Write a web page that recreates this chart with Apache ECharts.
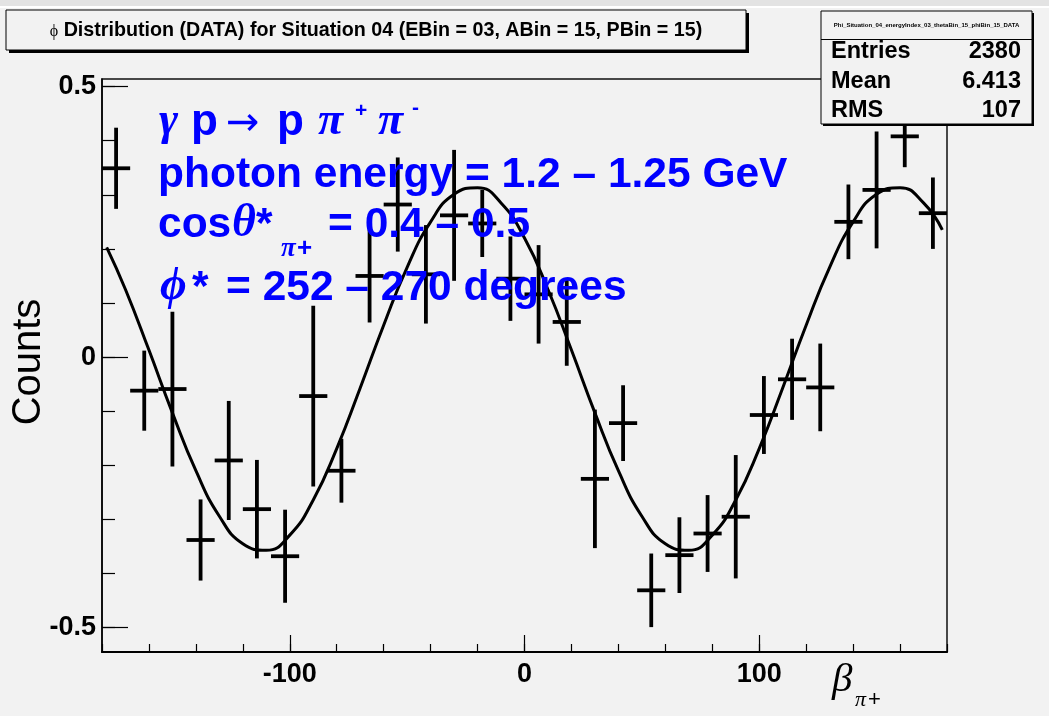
<!DOCTYPE html>
<html>
<head>
<meta charset="utf-8">
<script src="https://cdn.jsdelivr.net/npm/echarts@6/dist/echarts.min.js"></script>
<style>
  html, body { margin: 0; padding: 0; background: #f2f2f2; }
  #chart { width: 1049px; height: 716px; }
</style>
</head>
<body>
<div id="chart"></div>
<script>
// phi distribution, 30 bins of 12 degrees
const binCenters = [-174, -162, -150, -138, -126, -114, -102, -90, -78, -66,
                    -54, -42, -30, -18, -6, 6, 18, 30, 42, 54,
                    66, 78, 90, 102, 114, 126, 138, 150, 162, 174];
const counts = [0.349, -0.062, -0.059, -0.338, -0.191, -0.281, -0.368, -0.072, -0.210, 0.150,
                0.282, 0.153, 0.262, 0.247, 0.145, 0.116, 0.065, -0.225, -0.122, -0.431,
                -0.366, -0.326, -0.295, -0.107, -0.041, -0.056, 0.250, 0.309, 0.408, 0.266];
const countErrors = [0.075, 0.074, 0.143, 0.075, 0.110, 0.091, 0.086, 0.167, 0.059, 0.086,
                     0.087, 0.091, 0.121, 0.062, 0.078, 0.091, 0.081, 0.128, 0.070, 0.068,
                     0.070, 0.071, 0.114, 0.072, 0.075, 0.081, 0.069, 0.108, 0.057, 0.066];

// fitted curve
const fitAngles = [-178, -170, -160, -150, -140, -130, -120, -110, -100, -90,
                   -80, -70, -60, -50, -40, -30, -20, -10, 0, 10,
                   20, 30, 40, 50, 60, 70, 80, 90, 100, 110,
                   120, 130, 140, 150, 160, 170, 178];
const fitValues = [0.203, 0.125, 0.013, -0.103, -0.210, -0.294, -0.345, -0.357, -0.329, -0.264,
                   -0.169, -0.057, 0.059, 0.166, 0.250, 0.301, 0.313, 0.285, 0.220, 0.125,
                   0.013, -0.103, -0.210, -0.294, -0.345, -0.357, -0.329, -0.264, -0.169, -0.057,
                   0.059, 0.166, 0.250, 0.301, 0.313, 0.285, 0.235];

const xLabelTicks = [-100, 0, 100];
const yLabelTicks = [-0.5, 0, 0.5];
const yMinorTicks = [-0.5, -0.4, -0.3, -0.2, -0.1, 0, 0.1, 0.2, 0.3, 0.4, 0.5];

const statsTitle = 'Phi_Situation_04_energyIndex_03_thetaBin_15_phiBin_15_DATA';
const statsNames = ['Entries', 'Mean', 'RMS'];
const statsValues = ['2380', '6.413', '107'];

const plotTitle = ' Distribution (DATA) for Situation 04 (EBin = 03, ABin = 15, PBin = 15)';

const BIN_WIDTH = 12;
const BLUE = '#0000ff';
const SANS = "'Liberation Sans', Arial, sans-serif";
const SERIF = "'Liberation Serif', 'Times New Roman', serif";

const measureCtx = document.createElement('canvas').getContext('2d');
function textWidth(text, font) {
  measureCtx.font = font;
  return measureCtx.measureText(text).width;
}
function fontSize(font) {
  return parseFloat(font.match(/(\d+(?:\.\d+)?)px/)[1]);
}
// text element placed by its alphabetic baseline
function textEl(text, font, x, baseline, color, align, z) {
  return {
    type: 'text', z: z || 100, x: x, y: baseline - 0.345 * fontSize(font),
    style: { text: text, font: font, fill: color, align: align || 'left', textAlign: align || 'left',
             verticalAlign: 'middle', textVerticalAlign: 'middle' }
  };
}
// pieces with their own left edge and baseline offset
function placed(pieces, baseline, color) {
  return pieces.map(p => textEl(p.text, p.font, p.x, baseline + (p.dy || 0), color));
}

const S = 42.5;
const bold = `bold ${S}px ${SANS}`;
const greek = `italic bold 46px ${SERIF}`;
const supFont = `bold 21px ${SANS}`;
const subGreek = `italic bold 27px ${SERIF}`;
const subSans = `bold 26px ${SANS}`;

const annotation = [].concat(
  placed([
    { text: 'γ', font: greek, x: 159 },
    { text: 'p', font: `bold 44px ${SANS}`, x: 191 },
    { text: '→', font: `40px 'DejaVu Sans', sans-serif`, x: 226 },
    { text: 'p', font: `bold 44px ${SANS}`, x: 277 },
    { text: 'π', font: greek, x: 318 },
    { text: '+', font: supFont, x: 355, dy: -20 },
    { text: 'π', font: greek, x: 378 },
    { text: '-', font: supFont, x: 412, dy: -23 }
  ], 138, BLUE),
  placed([{ text: 'photon energy = 1.2 – 1.25 GeV', font: bold, x: 158 }], 190, BLUE),
  placed([
    { text: 'cos', font: bold, x: 158 },
    { text: 'θ', font: greek, x: 232 },
    { text: '*', font: bold, x: 256 },
    { text: 'π', font: subGreek, x: 281, dy: 18 },
    { text: '+', font: subSans, x: 297, dy: 18 },
    { text: '= 0.4 – 0.5', font: bold, x: 328 }
  ], 240, BLUE),
  placed([
    { text: 'ϕ', font: greek, x: 160 },
    { text: '*', font: bold, x: 192 },
    { text: '= 252 – 270 degrees', font: bold, x: 226 }
  ], 303, BLUE)
);

// title pave
const titleFont = `bold 19.7px ${SANS}`;
const titlePhiFont = `16px ${SERIF}`;
const titleW = textWidth('ϕ', titlePhiFont) + textWidth(plotTitle, titleFont);
const titleX = 376 - titleW / 2;
const titleBox = [
  { type: 'rect', z: 90, shape: { x: 9, y: 13, width: 740, height: 40 }, style: { fill: '#000' } },
  { type: 'rect', z: 91, shape: { x: 6, y: 10, width: 740, height: 40 }, style: { fill: '#f2f2f2', stroke: '#000', lineWidth: 1 } },
  textEl('ϕ', titlePhiFont, titleX, 37, '#000'),
  textEl(plotTitle, titleFont, titleX + textWidth('ϕ', titlePhiFont), 37, '#000')
];

// statistics pave
const statsBox = [
  { type: 'rect', z: 90, shape: { x: 823, y: 13, width: 211, height: 113 }, style: { fill: '#000' } },
  { type: 'rect', z: 91, shape: { x: 821, y: 11, width: 211, height: 113 }, style: { fill: '#f2f2f2', stroke: '#000', lineWidth: 1 } },
  { type: 'line', z: 92, shape: { x1: 821, y1: 39.5, x2: 1032, y2: 39.5 }, style: { stroke: '#000', lineWidth: 1 } },
  textEl(statsTitle, `bold 6px ${SANS}`, 926.5, 27, '#000', 'center')
];
statsNames.forEach((name, i) => {
  const base = 60 + i * 29.2;
  statsBox.push(textEl(name, `bold 23.5px ${SANS}`, 831, base, '#000', 'left'));
  statsBox.push(textEl(statsValues[i], `bold 23.5px ${SANS}`, 1021, base, '#000', 'right'));
});

// axis titles
const axisTitles = [
  {
    type: 'text', z: 100, x: 29, y: 362, rotation: Math.PI / 2,
    style: { text: 'Counts', font: `40px ${SANS}`, fill: '#000', align: 'center', textAlign: 'center',
             verticalAlign: 'middle', textVerticalAlign: 'middle' }
  },
  textEl('β', `italic 41px ${SERIF}`, 832, 694, '#000'),
  textEl('π', `italic 22px ${SERIF}`, 855, 708, '#000'),
  textEl('+', `22px ${SANS}`, 868, 708, '#000')
];

// window strip at the top edge
const topStrip = [
  { type: 'rect', z: 1, shape: { x: 0, y: 0, width: 1049, height: 6 }, style: { fill: '#e3e3e3' } },
  { type: 'rect', z: 1, shape: { x: 0, y: 6, width: 1049, height: 2 }, style: { fill: '#ffffff' } }
];

const chart = echarts.init(document.getElementById('chart'), null, { renderer: 'canvas' });

const axisLabelStyle = { color: '#000', fontFamily: SANS, fontWeight: 'bold', fontSize: 27 };

chart.setOption({
  backgroundColor: '#f2f2f2',
  animation: false,
  grid: { left: 102, right: 102, top: 79, bottom: 64, show: true, borderColor: '#111', borderWidth: 1.5 },
  xAxis: [
    {
      type: 'value', min: -180, max: 180, interval: 20,
      axisLine: { show: true, onZero: false, lineStyle: { color: '#000', width: 2 } },
      axisTick: { show: true, inside: true, length: 8, lineStyle: { color: '#000', width: 1.2 } },
      axisLabel: {
        ...axisLabelStyle, margin: 9,
        formatter: v => (xLabelTicks.indexOf(v) >= 0 ? String(v) : '')
      },
      splitLine: { show: false }
    },
    {
      type: 'value', min: -180, max: 180, position: 'bottom',
      axisLine: { show: false, onZero: false },
      axisTick: { show: true, inside: true, length: 17, customValues: xLabelTicks, lineStyle: { color: '#000', width: 1.2 } },
      axisLabel: { show: false },
      splitLine: { show: false }
    }
  ],
  yAxis: [
    {
      type: 'value', min: -0.545, max: 0.514,
      axisLine: { show: true, onZero: false, lineStyle: { color: '#000', width: 1.5 } },
      axisTick: { show: true, inside: true, length: 13, customValues: yMinorTicks, lineStyle: { color: '#000', width: 1.2 } },
      axisLabel: { ...axisLabelStyle, margin: 6, customValues: yLabelTicks, formatter: v => String(v) },
      splitLine: { show: false }
    },
    {
      type: 'value', min: -0.545, max: 0.514, position: 'left',
      axisLine: { show: false, onZero: false },
      axisTick: { show: true, inside: true, length: 26, customValues: yLabelTicks, lineStyle: { color: '#000', width: 1.2 } },
      axisLabel: { show: false },
      splitLine: { show: false }
    }
  ],
  series: [
    {
      type: 'custom',
      name: 'data',
      xAxisIndex: 0, yAxisIndex: 0,
      z: 3,
      data: binCenters.map((c, i) => [c, counts[i], countErrors[i]]),
      renderItem: function (params, api) {
        const x = api.value(0), y = api.value(1), e = api.value(2);
        const top = api.coord([x, y + e]);
        const bot = api.coord([x, y - e]);
        const left = api.coord([x - BIN_WIDTH / 2, y]);
        const right = api.coord([x + BIN_WIDTH / 2, y]);
        const st = { stroke: '#000', lineWidth: 3.8 };
        return {
          type: 'group',
          children: [
            { type: 'line', shape: { x1: top[0], y1: top[1], x2: bot[0], y2: bot[1] }, style: st },
            { type: 'line', shape: { x1: left[0], y1: left[1], x2: right[0], y2: right[1] }, style: st }
          ]
        };
      }
    },
    {
      type: 'line',
      name: 'fit',
      xAxisIndex: 0, yAxisIndex: 0,
      z: 4,
      data: fitAngles.map((a, i) => [a, fitValues[i]]),
      smooth: true,
      showSymbol: false,
      lineStyle: { color: '#000', width: 3 }
    }
  ],
  graphic: { elements: [].concat(topStrip, titleBox, statsBox, axisTitles, annotation) }
});
</script>
</body>
</html>
